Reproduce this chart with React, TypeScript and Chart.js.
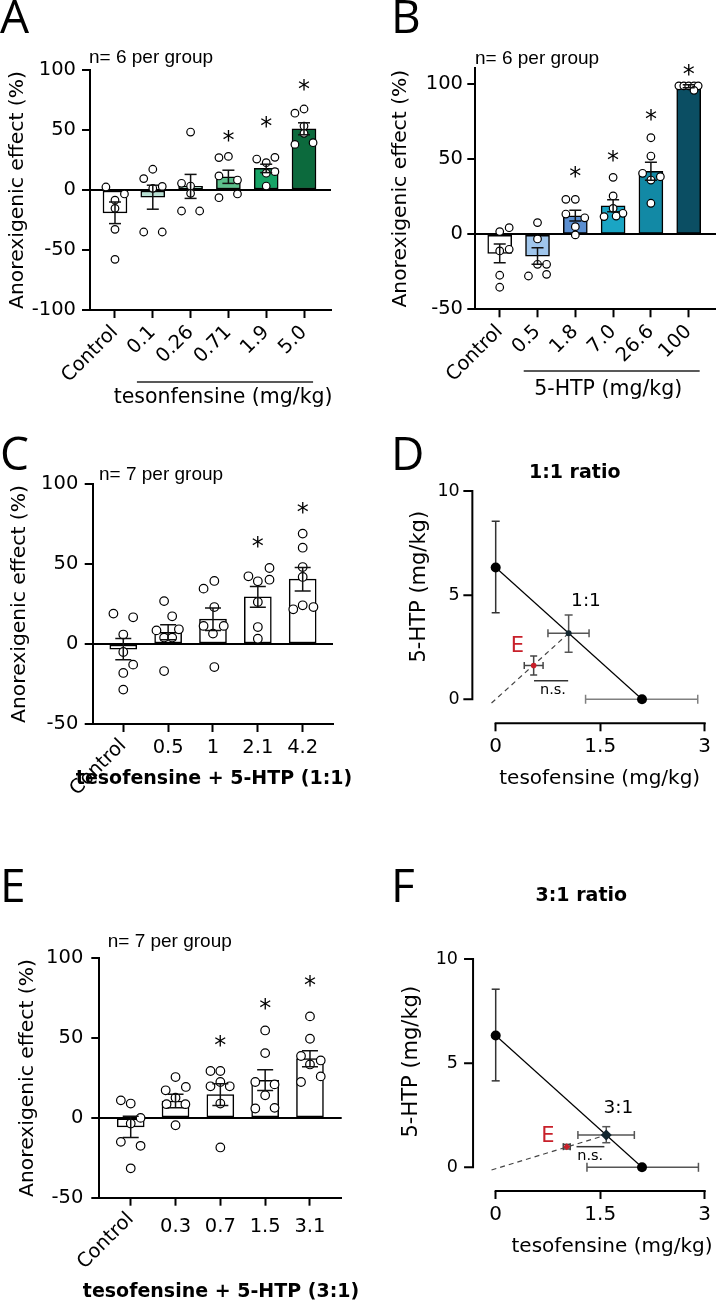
import React, { useEffect, useRef } from "react";
import { Chart, registerables } from "chart.js";

Chart.register(...registerables);

const SANS = "'DejaVu Sans', 'Liberation Sans', Arial, sans-serif";
const ARIAL = "'Liberation Sans', Arial, Helvetica, sans-serif";
const LETTER_FONT = "'Open Sans', 'Liberation Sans', sans-serif";
const RED = "#c8202a";

// ================= DATA =================
// Panel A – tesofensine alone
const aCategories = ["Control", "0.1", "0.26", "0.71", "1.9", "5.0"];
const aMeans = [-19, -6, 3, 11, 18, 51];
const aSem = [9, 10, 10, 5.5, 3.5, 5];
const aPoints = [
  [2.5, -3.3, -8.5, -15.3, -32.8, -57.8],
  [9.5, 17.3, 1.4, 3, -35, -35],
  [48.3, 5.6, 3.3, -2.8, -17.5, -17.5],
  [27, 28, 11.7, 8.3, -6.4, -3.3],
  [25.8, 27.2, 22.8, 15.3, 14, 3.3],
  [64, 67.5, 53.3, 47.2, 38, 39.4],
];
const aJitter = [
  [-0.24, 0.25, 0, 0, 0, 0],
  [-0.24, 0, 0, 0.25, -0.24, 0.25],
  [0, -0.24, 0, 0, -0.24, 0.24],
  [-0.25, 0, -0.25, 0.24, -0.25, 0.24],
  [-0.25, 0.23, 0, 0.23, 0, 0],
  [-0.24, 0, 0, 0, -0.24, 0.24],
];
const aStars = [null, null, null, 47, 58, 89];
const aColors = ["#ffffff", "#b8e0d3", "#93d5b9", "#5cbf8b", "#17a366", "#0c6a3d"];

// Panel B – 5-HTP alone
const bCategories = ["Control", "0.5", "1.8", "7.0", "26.6", "100"];
const bMeans = [-12.7, -14.5, 12.4, 19, 42, 98.7];
const bSem = [6.3, 5.5, 3.6, 4, 6, 1];
const bPoints = [
  [1.8, 4.4, -11.1, -10, -27.3, -35.3],
  [7.8, -3.1, -20, -20, -27.8, -26.7],
  [23.3, 23.3, 13.5, 11, 5.1, -0.4],
  [38, 25.6, 17.3, 14, 12.2, 11.8],
  [64.4, 52.2, 40.7, 38.4, 36.2, 20.7],
  [99, 99, 99, 99, 99, 96],
];
const bJitter = [
  [0, 0.25, 0, 0.25, 0, 0],
  [0, 0, 0, 0.24, -0.24, 0.24],
  [-0.25, 0, -0.25, 0.25, 0, 0],
  [0, 0, 0, 0.26, 0.08, -0.24],
  [0, 0, -0.22, 0.25, 0, 0],
  [-0.26, -0.13, 0, 0.14, 0.25, 0.14],
];
const bStars = [null, null, 43, 53.5, 80.7, 110.6];
const bColors = ["#ffffff", "#a0c6ec", "#5b8fd1", "#1aa5c4", "#1289a5", "#0b4e63"];

// Panel C – combination 1:1
const cCategories = ["Control", "0.5", "1", "2.1", "4.2"];
const cMeans = [-3.2, 7.3, 15.5, 29.5, 40.5];
const cSem = [6.6, 4.7, 7, 6.5, 7.3];
const cPoints = [
  [19, 16.7, 5.9, -5, -12.9, -18.1, -28.5],
  [26.8, 17.3, 8.5, 9.2, 4, 4, -16.9],
  [39.4, 34.6, 23.1, 11.3, 11.3, 6.5, -14.4],
  [42.3, 47.5, 39.2, 40.2, 26.3, 10.6, 3.3],
  [69, 60.2, 48.1, 41.9, 21.7, 23.1, 24.2],
];
const cJitter = [
  [-0.22, 0.22, 0, 0, 0.22, 0, 0],
  [-0.09, 0.09, -0.26, 0.24, -0.09, 0.09, -0.09],
  [0.03, -0.21, 0.03, -0.21, 0.24, 0, 0.03],
  [-0.21, 0.26, 0, 0.26, 0, 0, 0],
  [0, 0, 0, 0, -0.21, 0.24, 0],
];
const cStars = [null, null, null, 64.8, 86];

// Panel E – combination 3:1
const eCategories = ["Control", "0.3", "0.7", "1.5", "3.1"];
const eMeans = [-5.6, 10.6, 14.6, 23.6, 37.1];
const eSem = [6.7, 4.2, 6.8, 6.5, 5];
const ePoints = [
  [11, 9, 0, -3.5, -15, -17.5, -31.6],
  [25.6, 17.3, 19.4, 12.7, 8.6, 8.6, -4.6],
  [29.4, 29.4, 19.8, 19.8, 22.5, 9, -18.5],
  [54.8, 40.6, 22.5, 21, 14.2, 5.9, 6.3],
  [63.6, 49.6, 38.8, 36, 33.5, 22.5, 26],
];
const eJitter = [
  [-0.22, 0, 0.22, 0, -0.22, 0.22, 0],
  [0, -0.22, 0.23, 0, -0.2, 0.22, 0],
  [-0.22, 0, -0.22, 0.21, 0, 0, 0],
  [0, 0, -0.22, 0.21, 0, -0.22, 0.21],
  [0, 0, -0.2, 0.24, 0, -0.2, 0.24],
];
const eStars = [null, null, 49.6, 72.5, 87.1];

const whiteBars = ["#ffffff", "#ffffff", "#ffffff", "#ffffff", "#ffffff"];
const yTicksA = [-100, -50, 0, 50, 100];
const yTicksBCE = [-50, 0, 50, 100];

// Isobolograms (D, F)
const htpAloneEd50 = [0, 6.33];
const htpAloneCi = [4.15, 8.55];
const tesoAloneEd50 = [2.1, 0];
const dTesoCi = [1.29, 2.9];
const fTesoCi = [1.31, 2.91];
const dMix = [1.047, 3.17];
const dMixXCi = [0.75, 1.34];
const dMixYCi = [2.26, 4.05];
const dExp = [0.545, 1.62];
const dExpXCi = [0.41, 0.68];
const dExpYCi = [1.17, 2.08];
const dDashStart = [-0.06, -0.18];
const dNs = [0.55, 1.04, 0.89];
const fMix = [1.587, 1.55];
const fMixXCi = [1.18, 1.99];
const fMixYCi = [1.18, 1.95];
const fExp = [1.02, 0.99];
const fExpXCi = [0.97, 1.07];
const fExpYCi = [0.88, 1.1];
const fDashStart = [-0.06, -0.13];
const fNs = [1.16, 1.56, 0.99];
const isoXTicks = [0, 1.5, 3];
const isoYTicks = [0, 5, 10];

// ================= HELPERS =================
type Txt = {
  t: string; x: number; y: number; xd?: boolean; yd?: boolean; font: string; color?: string;
  align?: CanvasTextAlign; base?: CanvasTextBaseline; rot?: number; dx?: number; dy?: number;
};
type Seg = { x1: number; y1: number; x2: number; y2: number; xd?: boolean; yd?: boolean; color?: string; width?: number };

function overlayPlugin(texts: Txt[], segs: Seg[], extra?: (c: any) => void) {
  return {
    id: "overlay",
    afterDraw(chart: any) {
      const ctx = chart.ctx;
      const xs = chart.scales.x;
      const ys = chart.scales.y;
      const X = (v: number, d?: boolean) => (d ? xs.getPixelForValue(v) : v);
      const Y = (v: number, d?: boolean) => (d ? ys.getPixelForValue(v) : v);
      if (extra) extra(chart);
      segs.forEach((s) => {
        ctx.save();
        ctx.beginPath();
        ctx.strokeStyle = s.color || "#222";
        ctx.lineWidth = s.width || 1.5;
        ctx.moveTo(X(s.x1, s.xd), Y(s.y1, s.yd));
        ctx.lineTo(X(s.x2, s.xd), Y(s.y2, s.yd));
        ctx.stroke();
        ctx.restore();
      });
      texts.forEach((t) => {
        ctx.save();
        ctx.font = t.font;
        ctx.fillStyle = t.color || "#000";
        ctx.textAlign = t.align || "center";
        ctx.textBaseline = t.base || "middle";
        ctx.translate(X(t.x, t.xd) + (t.dx || 0), Y(t.y, t.yd) + (t.dy || 0));
        if (t.rot) ctx.rotate((t.rot * Math.PI) / 180);
        ctx.fillText(t.t, 0, 0);
        ctx.restore();
      });
    },
  };
}

function zeroPad(s: any) {
  s.paddingLeft = 0;
  s.paddingRight = 0;
  s.paddingTop = 0;
  s.paddingBottom = 0;
}

interface BarSpec {
  cats: string[]; means: number[]; sems: number[]; points: number[][]; jitter: number[][];
  stars: (number | null)[]; colors: string[]; w: number; h: number;
  area: { l: number; t: number; r: number; b: number };
  xRange: [number, number]; yRange: [number, number]; yTicks: number[];
  barW: number; dotR: number; capR: number; rotate: boolean;
  yTickPad: number; yTitlePad: number; xTickPad: number;
  texts: Txt[]; segs: Seg[];
}

const TICK_SIZE = 19.5;

function barConfig(s: BarSpec) {
  const bars = s.means.map((m, i) => ({ x: i, y: m }));
  const errs: any[] = [];
  s.means.forEach((m, i) => {
    errs.push({ x: i, y: m - s.sems[i] }, { x: i, y: m + s.sems[i] }, { x: i, y: null });
  });
  const dots: any[] = [];
  s.points.forEach((g, i) => g.forEach((v, j) => dots.push({ x: i + s.jitter[i][j], y: v })));
  const texts: Txt[] = [...s.texts];
  s.stars.forEach((v, i) => {
    if (v !== null)
      texts.push({ t: "*", x: i, y: v, xd: true, yd: true, font: `24px ${SANS}`, base: "alphabetic", dy: 14 });
  });
  if (!s.rotate) {
    texts.push({
      t: s.cats[0], x: 0, xd: true, y: s.area.b + 18.5, dx: 0, rot: -45, align: "right", base: "middle",
      font: `${TICK_SIZE}px ${SANS}`,
    });
  }
  const tickFont = { family: SANS, size: TICK_SIZE };
  return {
    type: "scatter",
    data: {
      datasets: [
        {
          type: "bar", data: bars, backgroundColor: s.colors, borderColor: "#000", borderWidth: 1.5,
          borderSkipped: false, barThickness: s.barW, order: 3,
        },
        {
          type: "scatter", data: dots, pointRadius: s.dotR, pointBackgroundColor: "#fff",
          pointBorderColor: "#000", pointBorderWidth: 1.2, order: 2,
        },
        {
          type: "line", data: errs, borderColor: "#111", borderWidth: 1.5, spanGaps: false,
          pointStyle: "line", pointRadius: s.capR, pointBorderColor: "#111", pointBorderWidth: 1.5, order: 1,
        },
      ],
    },
    options: {
      responsive: false,
      animation: false,
      events: [],
      layout: { autoPadding: false, padding: { left: 0, top: s.area.t, right: s.w - s.area.r, bottom: 0 } },
      plugins: { legend: { display: false }, tooltip: { enabled: false } },
      scales: {
        x: {
          type: "linear", min: s.xRange[0], max: s.xRange[1], offset: false,
          afterBuildTicks: (sc: any) => { sc.ticks = s.cats.map((_, i) => ({ value: i })); },
          afterFit: (sc: any) => { sc.height = s.h - s.area.b; zeroPad(sc); },
          border: { display: true, color: "#000", width: 2 },
          grid: {
            display: true, drawOnChartArea: false, drawTicks: true, tickLength: 8,
            tickColor: "#000", tickWidth: 2, offset: false,
          },
          ticks: {
            autoSkip: false, color: "#000", font: tickFont, padding: s.xTickPad,
            minRotation: s.rotate ? 45 : 0, maxRotation: s.rotate ? 45 : 0,
            callback: (v: number) => (s.rotate || v !== 0 ? s.cats[v] : ""),
          },
          title: { display: false },
        },
        y: {
          type: "linear", min: s.yRange[0], max: s.yRange[1],
          afterBuildTicks: (sc: any) => { sc.ticks = s.yTicks.map((v) => ({ value: v })); },
          afterFit: (sc: any) => { sc.width = s.area.l; zeroPad(sc); },
          border: { display: true, color: "#000", width: 2 },
          grid: {
            drawOnChartArea: true, drawTicks: true, tickLength: 8, tickColor: "#000", tickWidth: 2,
            lineWidth: 2,
            color: (c: any) => (c.tick && c.tick.value === 0 ? "#000" : "rgba(0,0,0,0)"),
          },
          ticks: { color: "#000", font: tickFont, padding: s.yTickPad, callback: (v: number) => String(v) },
          title: {
            display: true, text: "Anorexigenic effect (%)", color: "#000",
            font: { family: SANS, size: 20.3 }, padding: { top: s.yTitlePad, bottom: 0 },
          },
        },
      },
    },
    plugins: [overlayPlugin(texts, s.segs)],
  };
}

interface IsoSpec {
  w: number; h: number; area: { l: number; t: number; r: number; b: number };
  xRange: [number, number]; yRange: [number, number];
  tesoCi: number[]; tesoCiColor: string;
  mix: number[]; mixXCi: number[]; mixYCi: number[]; mixStyle: string; mixR: number;
  exp: number[]; expXCi: number[]; expYCi: number[]; expStyle: string; expR: number;
  dashStart: number[]; ns: number[];
  yTickPad: number; xTickPad: number; yAxisAt: number;
  texts: Txt[];
}

function detachedAxes(yAxisAt: number) {
  return (chart: any) => {
    const ctx = chart.ctx;
    const xs = chart.scales.x;
    const ys = chart.scales.y;
    const ax = xs.getPixelForValue(yAxisAt);
    ctx.save();
    ctx.strokeStyle = "#000";
    ctx.lineWidth = 2;
    ctx.lineCap = "square";
    ctx.beginPath();
    ctx.moveTo(ax, ys.getPixelForValue(isoYTicks[isoYTicks.length - 1]));
    ctx.lineTo(ax, ys.getPixelForValue(isoYTicks[0]));
    isoYTicks.forEach((v) => {
      const py = ys.getPixelForValue(v);
      ctx.moveTo(ax, py);
      ctx.lineTo(ax - 8, py);
    });
    const by = chart.chartArea.bottom;
    ctx.moveTo(xs.getPixelForValue(isoXTicks[0]), by);
    ctx.lineTo(xs.getPixelForValue(isoXTicks[isoXTicks.length - 1]), by);
    ctx.stroke();
    ctx.restore();
  };
}

function isoConfig(s: IsoSpec) {
  const errDs = (data: any[], color: string, horiz: boolean, cap: number) => ({
    type: "line", data, borderColor: color, borderWidth: 1.5, pointStyle: "line", pointRadius: cap,
    pointBorderColor: color, pointBorderWidth: 1.5, pointRotation: horiz ? 90 : 0, order: 1,
  });
  const V = (x: number, lo: number, hi: number) => [{ x, y: lo }, { x, y: hi }];
  const H = (y: number, lo: number, hi: number) => [{ x: lo, y }, { x: hi, y }];
  return {
    type: "scatter",
    data: {
      datasets: [
        {
          type: "line",
          data: [{ x: htpAloneEd50[0], y: htpAloneEd50[1] }, { x: tesoAloneEd50[0], y: tesoAloneEd50[1] }],
          borderColor: "#000", borderWidth: 1.2, pointRadius: 0, order: 2,
        },
        {
          type: "line",
          data: [{ x: s.dashStart[0], y: s.dashStart[1] }, { x: s.mix[0], y: s.mix[1] }],
          borderColor: "#444", borderWidth: 1.2, borderDash: [5, 4], pointRadius: 0, order: 2,
        },
        {
          type: "line",
          data: [{ x: s.ns[0], y: s.ns[2] }, { x: s.ns[1], y: s.ns[2] }],
          borderColor: "#333", borderWidth: 1.5, pointRadius: 0, order: 2,
        },
        errDs(V(htpAloneEd50[0], htpAloneCi[0], htpAloneCi[1]), "#333", false, 4),
        errDs(H(tesoAloneEd50[1], s.tesoCi[0], s.tesoCi[1]), s.tesoCiColor, true, 4.5),
        errDs(V(s.mix[0], s.mixYCi[0], s.mixYCi[1]), "#555", false, 4),
        errDs(H(s.mix[1], s.mixXCi[0], s.mixXCi[1]), "#555", true, 4),
        errDs(V(s.exp[0], s.expYCi[0], s.expYCi[1]), "#444", false, 3.5),
        errDs(H(s.exp[1], s.expXCi[0], s.expXCi[1]), "#444", true, 3.5),
        {
          type: "scatter",
          data: [{ x: htpAloneEd50[0], y: htpAloneEd50[1] }, { x: tesoAloneEd50[0], y: tesoAloneEd50[1] }],
          pointRadius: 5, pointBackgroundColor: "#000", pointBorderColor: "#000", pointBorderWidth: 0, order: 0,
        },
        {
          type: "scatter", data: [{ x: s.mix[0], y: s.mix[1] }], pointStyle: s.mixStyle, pointRadius: s.mixR,
          pointBackgroundColor: "#13262f", pointBorderColor: "#13262f", pointBorderWidth: 0, order: 0,
        },
        {
          type: "scatter", data: [{ x: s.exp[0], y: s.exp[1] }], pointStyle: s.expStyle, pointRadius: s.expR,
          pointBackgroundColor: RED, pointBorderColor: RED, pointBorderWidth: 0, order: 0,
        },
      ],
    },
    options: {
      responsive: false,
      animation: false,
      events: [],
      layout: { autoPadding: false, padding: { left: 0, top: s.area.t, right: s.w - s.area.r, bottom: 0 } },
      plugins: { legend: { display: false }, tooltip: { enabled: false } },
      scales: {
        x: {
          type: "linear", min: s.xRange[0], max: s.xRange[1], offset: false,
          afterBuildTicks: (sc: any) => { sc.ticks = isoXTicks.map((v) => ({ value: v })); },
          afterFit: (sc: any) => { sc.height = s.h - s.area.b; zeroPad(sc); },
          border: { display: false },
          grid: { display: true, drawOnChartArea: false, drawTicks: true, tickLength: 8, tickColor: "#000", tickWidth: 2 },
          ticks: {
            autoSkip: false, color: "#000", font: { family: SANS, size: 20 }, padding: s.xTickPad,
            minRotation: 0, maxRotation: 0, callback: (v: number) => String(v),
          },
        },
        y: {
          type: "linear", min: s.yRange[0], max: s.yRange[1],
          afterBuildTicks: (sc: any) => { sc.ticks = isoYTicks.map((v) => ({ value: v })); },
          afterFit: (sc: any) => { sc.width = s.area.l; zeroPad(sc); },
          border: { display: false },
          grid: { display: false, drawTicks: false },
          ticks: { color: "#000", font: { family: SANS, size: 17.5 }, padding: s.yTickPad, callback: (v: number) => String(v) },
        },
      },
    },
    plugins: [overlayPlugin(s.texts, [], detachedAxes(s.yAxisAt))],
  };
}

// ================= PANEL SPECS =================
const letter = (t: string, x: number, y: number): Txt => ({
  t, x, y, font: `46px ${LETTER_FONT}`, align: "left", base: "alphabetic",
});
const nText = (t: string, x: number, y: number): Txt => ({
  t, x, y, font: `19px ${ARIAL}`, align: "left", base: "middle",
});
const boldTitle = (t: string, x: number, y: number): Txt => ({
  t, x, y, font: `bold 19px ${SANS}`, align: "center", base: "middle",
});

const specA: BarSpec = {
  cats: aCategories, means: aMeans, sems: aSem, points: aPoints, jitter: aJitter, stars: aStars, colors: aColors,
  w: 358, h: 420, area: { l: 90, t: 70, r: 331, b: 310 },
  xRange: [-0.661, 5.714], yRange: [-100, 100], yTicks: yTicksA,
  barW: 24, dotR: 3.8, capR: 6, rotate: true, yTickPad: 6, yTitlePad: 5.2, xTickPad: 3,
  texts: [
    letter("A", 0, 33),
    nText("n= 6 per group", 89, 58),
    { t: "tesonfensine (mg/kg)", x: 2.86, xd: true, y: 398, font: `20.5px ${SANS}` },
  ],
  segs: [{ x1: 0.58, x2: 5.24, xd: true, y1: 382, y2: 382, width: 1.5 }],
};

const specB: BarSpec = {
  cats: bCategories, means: bMeans, sems: bSem, points: bPoints, jitter: bJitter, stars: bStars, colors: bColors,
  w: 358, h: 420, area: { l: 117.3, t: 68, r: 358, b: 309.3 },
  xRange: [-0.646, 5.722], yRange: [-50, 110.9], yTicks: yTicksBCE,
  barW: 24, dotR: 3.8, capR: 6, rotate: true, yTickPad: 4.3, yTitlePad: 30.2, xTickPad: 3,
  texts: [
    letter("B", 33, 33),
    nText("n= 6 per group", 117, 59),
    { t: "5-HTP (mg/kg)", x: 2.87, xd: true, y: 390, font: `20.5px ${SANS}` },
  ],
  segs: [{ x1: 0.635, x2: 5.29, xd: true, y1: 371, y2: 371, width: 1.5 }],
};

const specC: BarSpec = {
  cats: cCategories, means: cMeans, sems: cSem, points: cPoints, jitter: cJitter, stars: cStars, colors: whiteBars,
  w: 358, h: 440, area: { l: 92.7, t: 64, r: 333, b: 304 },
  xRange: [-0.682, 4.676], yRange: [-50, 100], yTicks: yTicksBCE,
  barW: 27, dotR: 4.3, capR: 8, rotate: false, yTickPad: 6.4, yTitlePad: 7.7, xTickPad: 4.3,
  texts: [
    letter("C", 0, 50),
    nText("n= 7 per group", 99, 55),
    boldTitle("tesofensine + 5-HTP (1:1)", 214, 359),
  ],
  segs: [],
};

const specE: BarSpec = {
  cats: eCategories, means: eMeans, sems: eSem, points: ePoints, jitter: eJitter, stars: eStars, colors: whiteBars,
  w: 358, h: 445, area: { l: 99.3, t: 98.3, r: 341.7, b: 337.7 },
  xRange: [-0.701, 4.708], yRange: [-50, 100], yTicks: yTicksBCE,
  barW: 27, dotR: 4.3, capR: 8, rotate: false, yTickPad: 8, yTitlePad: 15.7, xTickPad: 9.3,
  texts: [
    letter("E", 0, 42),
    nText("n= 7 per group", 107.7, 81.7),
    boldTitle("tesofensine + 5-HTP (3:1)", 221, 431.7),
  ],
  segs: [],
};

const specD: IsoSpec = {
  w: 358, h: 440, area: { l: 130, t: 71, r: 354, b: 303.3 },
  xRange: [-0.1105, 3.1046], yRange: [-1.152, 10],
  tesoCi: dTesoCi, tesoCiColor: "#808080",
  mix: dMix, mixXCi: dMixXCi, mixYCi: dMixYCi, mixStyle: "circle", mixR: 3,
  exp: dExp, expXCi: dExpXCi, expYCi: dExpYCi, expStyle: "circle", expR: 2.8,
  dashStart: dDashStart, ns: dNs, yTickPad: 28.3, xTickPad: 3.4, yAxisAt: -0.335,
  texts: [
    letter("D", 33, 50),
    { t: "1:1 ratio", x: 216.7, y: 53.3, font: `bold 19px ${SANS}` },
    { t: "5-HTP (mg/kg)", x: 61.7, y: 166.7, rot: -90, font: `21px ${SANS}` },
    { t: "tesofensine (mg/kg)", x: 241.7, y: 358.3, font: `20px ${SANS}` },
    { t: "1:1", x: 1.296, y: 4.69, xd: true, yd: true, font: `18.5px ${SANS}` },
    { t: "E", x: 0.31, y: 2.53, xd: true, yd: true, font: `21px ${SANS}`, color: RED },
    { t: "n.s.", x: 0.822, y: 0.447, xd: true, yd: true, font: `14.5px ${SANS}` },
  ],
};

const specF: IsoSpec = {
  w: 358, h: 445, area: { l: 130, t: 99, r: 354, b: 331 },
  xRange: [-0.1105, 3.1046], yRange: [-1.138, 10],
  tesoCi: fTesoCi, tesoCiColor: "#555",
  mix: fMix, mixXCi: fMixXCi, mixYCi: fMixYCi, mixStyle: "rectRot", mixR: 5.5,
  exp: fExp, expXCi: fExpXCi, expYCi: fExpYCi, expStyle: "rectRot", expR: 3.5,
  dashStart: fDashStart, ns: fNs, yTickPad: 30, xTickPad: 4, yAxisAt: -0.325,
  texts: [
    letter("F", 33, 42),
    { t: "3:1 ratio", x: 223.3, y: 36, font: `bold 19px ${SANS}` },
    { t: "5-HTP (mg/kg)", x: 53.3, y: 201.7, rot: -90, font: `21px ${SANS}` },
    { t: "tesofensine (mg/kg)", x: 254, y: 386.7, font: `20px ${SANS}` },
    { t: "3:1", x: 1.76, y: 2.84, xd: true, yd: true, font: `18.5px ${SANS}` },
    { t: "E", x: 0.75, y: 1.47, xd: true, yd: true, font: `21px ${SANS}`, color: RED },
    { t: "n.s.", x: 1.357, y: 0.54, xd: true, yd: true, font: `14.5px ${SANS}` },
  ],
};

// ================= COMPONENTS =================
function ChartCanvas(props: { left: number; top: number; w: number; h: number; make: () => any }) {
  const ref = useRef<HTMLCanvasElement>(null);
  useEffect(() => {
    const chart = new Chart(ref.current as HTMLCanvasElement, props.make());
    return () => chart.destroy();
  }, []);
  return (
    <canvas
      ref={ref}
      width={props.w}
      height={props.h}
      style={{ position: "absolute", left: props.left, top: props.top, width: props.w, height: props.h }}
    />
  );
}

export default function App() {
  return (
    <div style={{ position: "absolute", left: 0, top: 0, width: 716, height: 1305, background: "#fff", overflow: "hidden" }}>
      <ChartCanvas left={0} top={0} w={358} h={420} make={() => barConfig(specA)} />
      <ChartCanvas left={358} top={0} w={358} h={420} make={() => barConfig(specB)} />
      <ChartCanvas left={0} top={420} w={358} h={440} make={() => barConfig(specC)} />
      <ChartCanvas left={358} top={420} w={358} h={440} make={() => isoConfig(specD)} />
      <ChartCanvas left={0} top={860} w={358} h={445} make={() => barConfig(specE)} />
      <ChartCanvas left={358} top={860} w={358} h={445} make={() => isoConfig(specF)} />
    </div>
  );
}
